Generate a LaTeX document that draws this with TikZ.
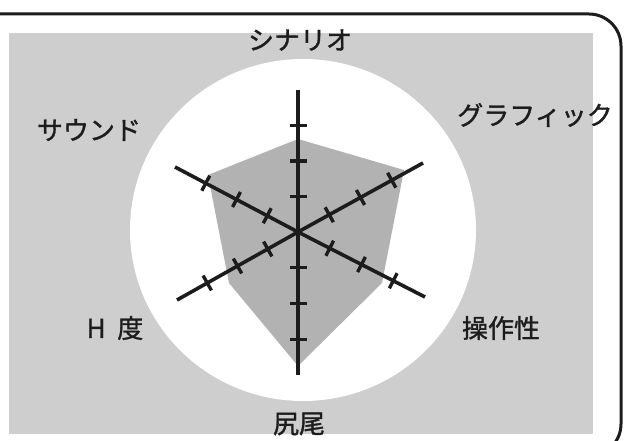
\documentclass[tikz,border=0pt]{standalone}
\usepackage{fontspec}
\newfontfamily\jp[FakeBold=1.2]{Noto Sans CJK JP}
\usetikzlibrary{calc}
\definecolor{bggray}{RGB}{206,206,206}
\definecolor{polygray}{RGB}{178,178,178}
\definecolor{ink}{RGB}{28,28,28}
\begin{document}
\begin{tikzpicture}[x=1pt,y=-1pt,
  lbl/.style={font=\jp\fontsize{26}{30}\selectfont, text=ink, inner sep=0pt},
  axisline/.style={line width=3.6pt, draw=ink},
  tickmark/.style={line width=3.4pt, draw=ink}]
\useasboundingbox (0,0) rectangle (625,441);
\fill[white] (0,0) rectangle (625,441);
% outer frame
\draw[line width=3pt, rounded corners=32pt, draw=ink] (-10,14) -- (621,14) -- (621,456) -- (480,456);
% grey panel and white disc
\fill[bggray] (9,33) rectangle (593,434);
\fill[white] (303,230) ellipse [x radius=173, y radius=171];
% value polygon
\fill[polygray] (298,139) -- (404,170) -- (382,283) -- (298,366) -- (229,283) -- (208,175) -- cycle;
% axes
\coordinate (C) at (298,232);
\coordinate (E1) at (298,90);
\coordinate (E2) at (423,163);
\coordinate (E3) at (425,297);
\coordinate (E4) at (298,375);
\coordinate (E5) at (177,300);
\coordinate (E6) at (175,167);
\foreach \e in {E1,E2,E3,E4,E5,E6}{
  \draw[axisline] (C) -- (\e);
  \foreach \t in {0.25,0.5,0.75,1}{
    \draw[tickmark] ($($(C)!\t!(\e)$)!8.5pt!90:(\e)$) -- ($($(C)!\t!(\e)$)!8.5pt!-90:(\e)$);
  }
}
% labels
\node[lbl] (scen) at (300,40) {シナリオ};
\node[lbl] (graph) at (535,115) {グラフィック};
\node[lbl] (sound) at (89,130) {サウンド};
\node[lbl] (hdo) at (115,328) {H\hspace{0.45em}度};
\node[lbl] (ops) at (501,328) {操作性};
\node[lbl] (tail) at (299,424) {尻尾};
\end{tikzpicture}
\end{document}
